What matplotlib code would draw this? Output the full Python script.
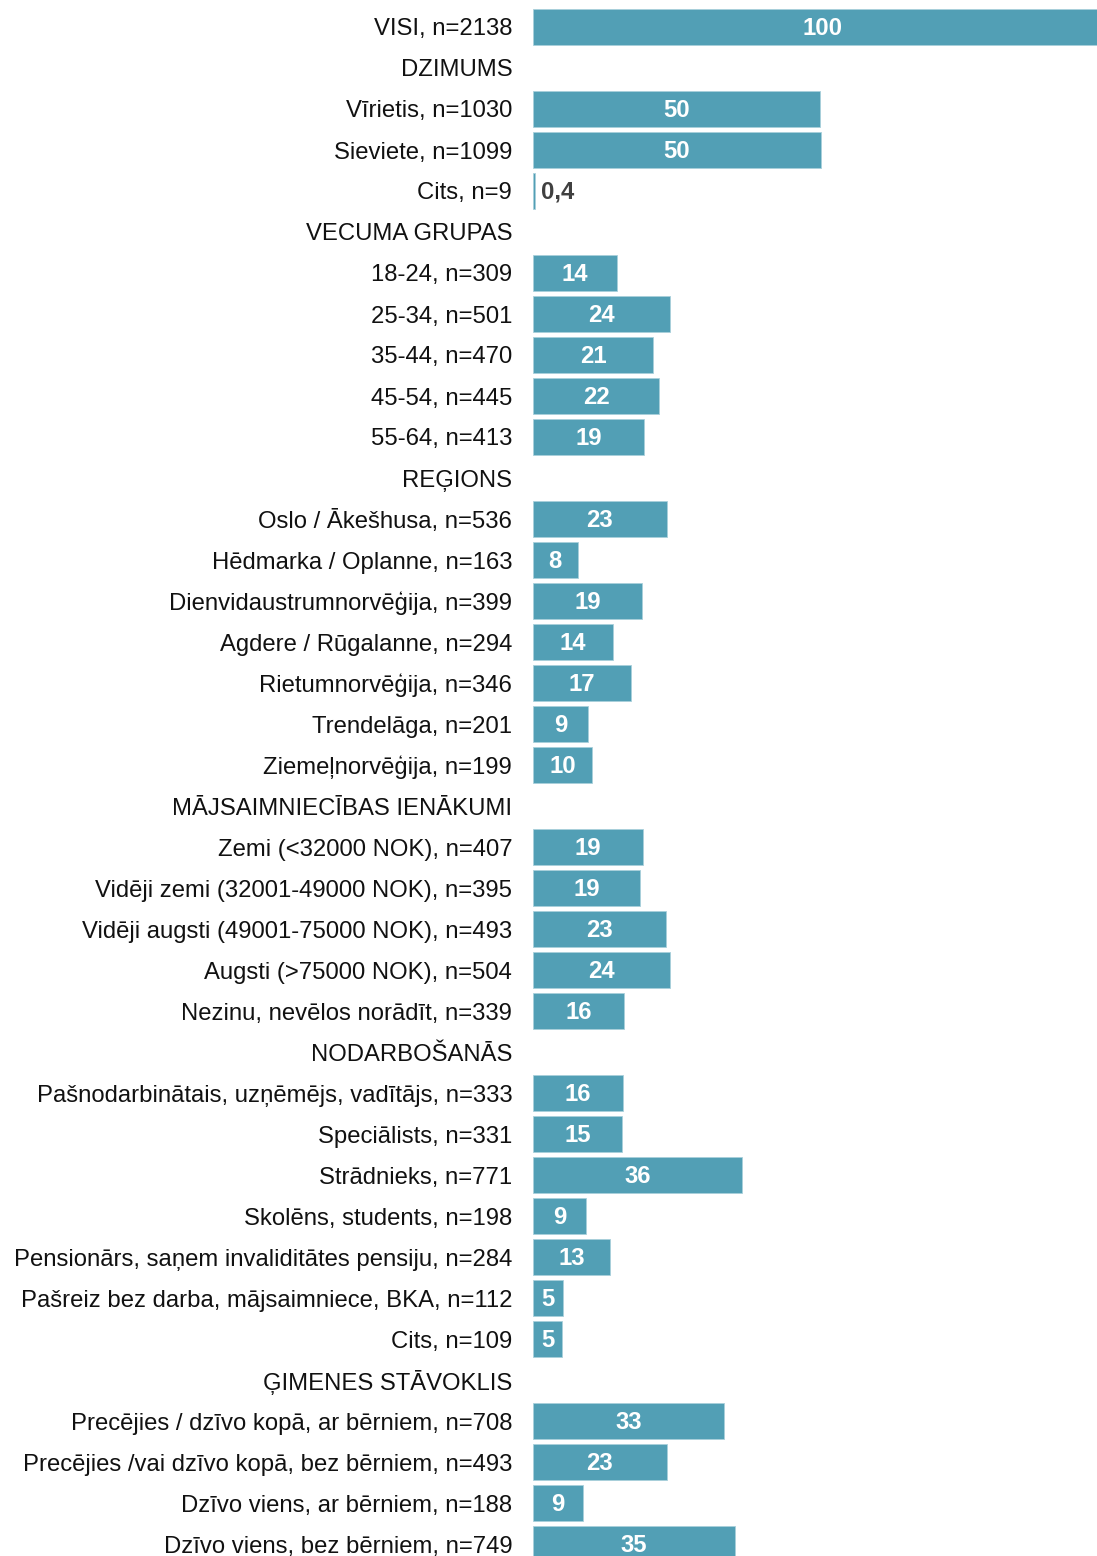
import matplotlib
matplotlib.use("Agg")
import matplotlib.pyplot as plt
import numpy as np

# Rows top to bottom; None marks a group heading without a bar
labels = [
    "VISI, n=2138",
    "DZIMUMS",
    "Vīrietis, n=1030",
    "Sieviete, n=1099",
    "Cits, n=9",
    "VECUMA GRUPAS",
    "18-24, n=309",
    "25-34, n=501",
    "35-44, n=470",
    "45-54, n=445",
    "55-64, n=413",
    "REĢIONS",
    "Oslo / Ākešhusa, n=536",
    "Hēdmarka / Oplanne, n=163",
    "Dienvidaustrumnorvēģija, n=399",
    "Agdere / Rūgalanne, n=294",
    "Rietumnorvēģija, n=346",
    "Trendelāga, n=201",
    "Ziemeļnorvēģija, n=199",
    "MĀJSAIMNIECĪBAS IENĀKUMI",
    "Zemi (<32000 NOK), n=407",
    "Vidēji zemi (32001-49000 NOK), n=395",
    "Vidēji augsti (49001-75000 NOK), n=493",
    "Augsti (>75000 NOK), n=504",
    "Nezinu, nevēlos norādīt, n=339",
    "NODARBOŠANĀS",
    "Pašnodarbinātais, uzņēmējs, vadītājs, n=333",
    "Speciālists, n=331",
    "Strādnieks, n=771",
    "Skolēns, students, n=198",
    "Pensionārs, saņem invaliditātes pensiju, n=284",
    "Pašreiz bez darba, mājsaimniece, BKA, n=112",
    "Cits, n=109",
    "ĢIMENES STĀVOKLIS",
    "Precējies / dzīvo kopā, ar bērniem, n=708",
    "Precējies /vai dzīvo kopā, bez bērniem, n=493",
    "Dzīvo viens, ar bērniem, n=188",
    "Dzīvo viens, bez bērniem, n=749",
]

values = [
    100, None, 49.7, 49.8, 0.4,
    None, 14.5, 23.7, 20.8, 21.8, 19.2,
    None, 23.1, 7.7, 18.8, 13.8, 17.0, 9.5, 10.2,
    None, 19.0, 18.5, 23.0, 23.7, 15.7,
    None, 15.6, 15.4, 36.1, 9.2, 13.3, 5.2, 5.1,
    None, 33.0, 23.1, 8.7, 35.0,
]

value_text = [
    "100", "", "50", "50", "0,4",
    "", "14", "24", "21", "22", "19",
    "", "23", "8", "19", "14", "17", "9", "10",
    "", "19", "19", "23", "24", "16",
    "", "16", "15", "36", "9", "13", "5", "5",
    "", "33", "23", "9", "35",
]

plt.rcParams["font.family"] = ["Liberation Sans", "DejaVu Sans"]

bar_color = "#529fb5"
fs = 17.2
fig = plt.figure(figsize=(10.97, 15.56), dpi=100)
ax = fig.add_axes([533 / 1097, 0, 1 - 533 / 1097, 1])

y = np.arange(len(labels))
widths = [v if v is not None else 0 for v in values]
bars = ax.barh(y, widths, height=0.86, color=bar_color, edgecolor="#a9d0db", linewidth=0.6)

for i, (v, t) in enumerate(zip(values, value_text)):
    if v is None:
        bars[i].set_visible(False)
        continue
    if v < 2:
        # tiny bar: label sits just to its right in dark grey
        ax.text(v + 1.0, i + 0.03, t, ha="left", va="center", fontsize=fs,
                fontweight="bold", color="#404040")
    else:
        ax.text(v / 2, i + 0.03, t, ha="center", va="center", fontsize=fs,
                fontweight="bold", color="white")

ax.set_yticks(y)
ax.set_yticklabels(labels, fontsize=fs, color="#111111")
ax.tick_params(axis="y", length=0, pad=15)
ax.set_xticks([])

px_per_unit = 5.78
ax.set_xlim(0, 564 / px_per_unit)
ax.set_ylim(len(labels) - 1 + 12 / 41, -27 / 41)

for s in ax.spines.values():
    s.set_visible(False)

fig.savefig("out.png", dpi=100)
